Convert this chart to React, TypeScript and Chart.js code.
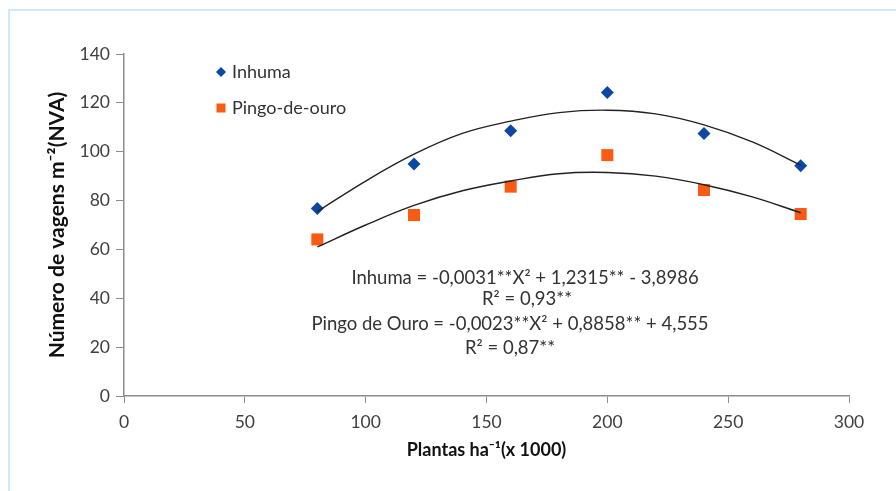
import React, { useEffect, useRef } from "react";
import { Chart, registerables } from "chart.js";

Chart.register(...registerables);

const xValues = [80, 120, 160, 200, 240, 280];
const inhumaValues = [76.8, 95, 108.6, 124.2, 107.5, 94.3];
const pingoValues = [64.1, 74.1, 85.7, 98.6, 84.3, 74.5];

const curveX = [80, 100, 120, 140, 160, 180, 200, 220, 240, 260, 280];
const inhumaCurve = [75.5, 88, 99, 107.5, 112.5, 116, 117, 115.5, 111, 104, 94.5];
const pingoCurve = [61, 70, 78, 84, 88, 91, 91.5, 90, 86.5, 81.5, 75];

const seriesNames = ["Inhuma", "Pingo-de-ouro"];
const inhumaEquation = ["Inhuma = -0,0031**X² + 1,2315** - 3,8986", "R² = 0,93**"];
const pingoEquation = ["Pingo de Ouro = -0,0023**X² + 0,8858** + 4,555", "R² = 0,87**"];

const xTitle = "Plantas ha⁻¹(x 1000)";
const yTitle = "Número de vagens m⁻²(NVA)";

const BLUE = "#0b48a3";
const ORANGE = "#fb5a14";
const FONT = "Lato, 'Liberation Sans', sans-serif";

const overlayPlugin = {
  id: "overlay",
  afterDraw(chart: any) {
    const { ctx, chartArea } = chart;
    const L = chartArea.left;
    const T = chartArea.top;
    ctx.save();
    const lx = L + 97;
    const ly1 = T + 18;
    const ly2 = T + 54;
    ctx.fillStyle = BLUE;
    ctx.beginPath();
    ctx.moveTo(lx, ly1 - 5);
    ctx.lineTo(lx + 5, ly1);
    ctx.lineTo(lx, ly1 + 5);
    ctx.lineTo(lx - 5, ly1);
    ctx.closePath();
    ctx.fill();
    ctx.fillStyle = ORANGE;
    ctx.fillRect(lx - 4.5, ly2 - 4.5, 9, 9);
    ctx.fillStyle = "#333";
    ctx.font = `18px ${FONT}`;
    ctx.textAlign = "left";
    ctx.textBaseline = "middle";
    ctx.fillText(seriesNames[0], lx + 11, ly1);
    ctx.fillText(seriesNames[1], lx + 11, ly2);
    ctx.textAlign = "center";
    ctx.font = `18.5px ${FONT}`;
    ctx.fillText(inhumaEquation[0], L + 401, T + 224);
    ctx.fillText(inhumaEquation[1], L + 403, T + 245);
    ctx.fillText(pingoEquation[0], L + 386, T + 270);
    ctx.fillText(pingoEquation[1], L + 386, T + 294);
    ctx.restore();
  },
};

export default function App() {
  const ref = useRef<HTMLCanvasElement | null>(null);
  useEffect(() => {
    if (!ref.current) return;
    const chart = new Chart(ref.current, {
      type: "scatter",
      data: {
        datasets: [
          {
            label: seriesNames[0],
            data: xValues.map((x, i) => ({ x, y: inhumaValues[i] })),
            backgroundColor: BLUE,
            borderColor: BLUE,
            pointStyle: "rectRot",
            pointRadius: 6.5,
            borderWidth: 0,
            order: 1,
          },
          {
            label: seriesNames[1],
            data: xValues.map((x, i) => ({ x, y: pingoValues[i] })),
            backgroundColor: ORANGE,
            borderColor: ORANGE,
            pointStyle: "rect",
            pointRadius: 8.5,
            borderWidth: 0,
            order: 1,
          },
          {
            label: "curve1",
            data: curveX.map((x, i) => ({ x, y: inhumaCurve[i] })),
            showLine: true,
            borderColor: "#222",
            borderWidth: 1.4,
            pointRadius: 0,
            tension: 0.4,
            order: 0,
          } as any,
          {
            label: "curve2",
            data: curveX.map((x, i) => ({ x, y: pingoCurve[i] })),
            showLine: true,
            borderColor: "#222",
            borderWidth: 1.4,
            pointRadius: 0,
            tension: 0.4,
            order: 0,
          } as any,
        ],
      },
      options: {
        animation: false,
        responsive: false,
        maintainAspectRatio: false,
        layout: { padding: { left: 0, top: 54, right: 47, bottom: 0 } },
        plugins: { legend: { display: false }, tooltip: { enabled: false } },
        scales: {
          x: {
            type: "linear",
            min: 0,
            max: 300,
            ticks: { stepSize: 50, color: "#404040", font: { family: FONT, size: 17.5 }, padding: 9 },
            grid: { display: true, drawOnChartArea: false, drawTicks: true, tickLength: 7, color: "#8c8c8c" },
            border: { display: true, color: "#8c8c8c", width: 1.5 },
            title: {
              display: true,
              text: xTitle,
              color: "#111",
              font: { family: FONT, size: 18, weight: "bold" },
              padding: { top: 0, bottom: 30 },
            },
            afterFit: (s: any) => {
              s.height = 95;
            },
          },
          y: {
            min: 0,
            max: 140,
            ticks: { stepSize: 20, color: "#404040", font: { family: FONT, size: 17.5 }, padding: 6 },
            grid: { display: true, drawOnChartArea: false, drawTicks: true, tickLength: 8, color: "#8c8c8c" },
            border: { display: true, color: "#8c8c8c", width: 1.5 },
            title: {
              display: true,
              text: yTitle,
              color: "#111",
              font: { family: FONT, size: 21, weight: "bold" },
              padding: { top: 45, bottom: 0 },
            },
            afterFit: (s: any) => {
              s.width = 124;
            },
          },
        },
      } as any,
      plugins: [overlayPlugin],
    });
    return () => chart.destroy();
  }, []);
  return (
    <div style={{ position: "fixed", left: 0, top: 0, width: 896, height: 491, overflow: "hidden", background: "#fff" }}>
      <div
        style={{
          position: "absolute",
          left: 8,
          top: 9,
          width: 1000,
          height: 1000,
          border: "2px solid #cde9fb",
        }}
      />
      <canvas ref={ref} width={896} height={491} style={{ position: "absolute", left: 0, top: 0 }} />
    </div>
  );
}
